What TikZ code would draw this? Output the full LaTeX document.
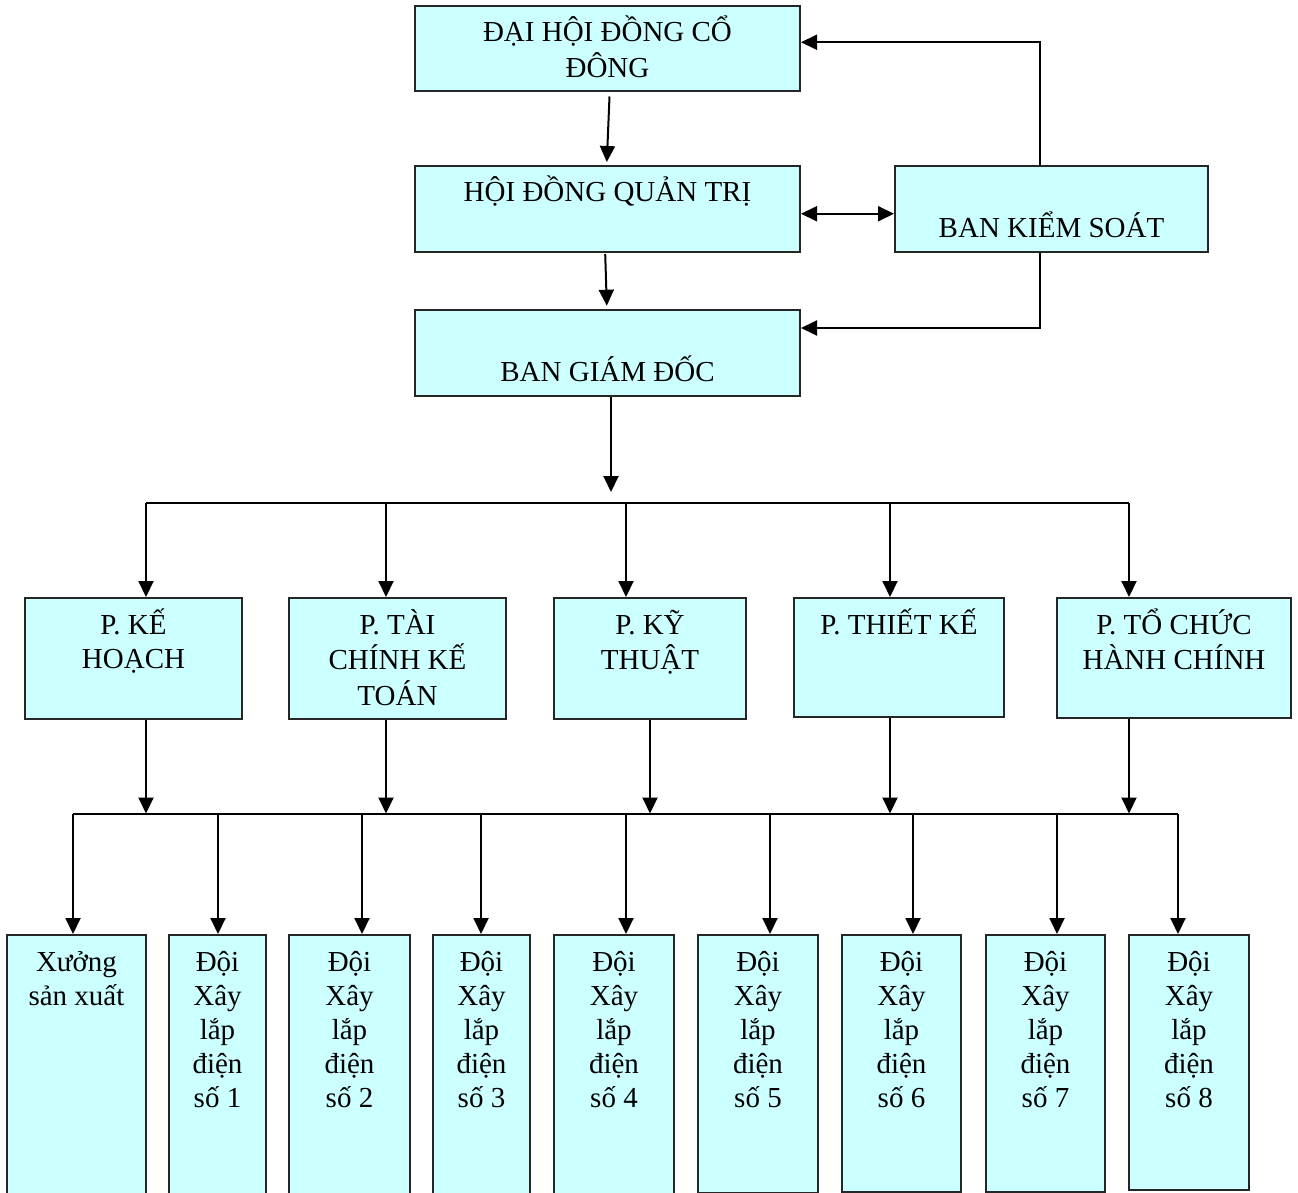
\documentclass[tikz,border=0pt]{standalone}
\usepackage{fontspec}
\setmainfont{Liberation Serif}
\usetikzlibrary{arrows.meta,calc}
\definecolor{boxfill}{HTML}{CCFFFF}
\tikzset{
  orgbox/.style={draw=black!85, fill=boxfill, line width=2pt, inner sep=0pt},
  boxtext/.style={anchor=base, inner sep=0pt, font=\fontsize{29}{34}\selectfont},
  arr/.style={-{Triangle[length=16pt,width=15pt]}, line width=2pt},
  arrboth/.style={{Triangle[length=16pt,width=15pt]}-{Triangle[length=16pt,width=15pt]}, line width=2pt},
  busline/.style={line width=2pt}
}
\newcommand\obox[6]{%
  \pgfmathsetmacro\bw{#4-#2}\pgfmathsetmacro\bh{#5-#3}%
  \node[orgbox, minimum width=\bw pt, minimum height=\bh pt] (#1) at ({(#2+#4)/2},{(#3+#5)/2}) {};
  \node[boxtext] (#1-t) at ($(#1.north)+(0,37)$) {\begin{tabular}[t]{@{}c@{}}#6\end{tabular}};
}
\begin{document}
\begin{tikzpicture}[x=1pt,y=-1pt]
\useasboundingbox (0,0) rectangle (1298,1193);
\clip (0,0) rectangle (1298,1193);
% top level
\obox{dhd}{415}{6}{800}{91.5}{ĐẠI HỘI ĐỒNG CỔ\\ĐÔNG}
\obox{hdqt}{415}{166}{800}{251.5}{HỘI ĐỒNG QUẢN TRỊ}
\obox{bks}{895}{166}{1208}{251.5}{~\\BAN KIỂM SOÁT}
\obox{bgd}{415}{310}{800}{396}{~\\BAN GIÁM ĐỐC}
% departments
\obox{kh}{25}{598}{242}{719}{P. KẾ\\HOẠCH}
\obox{tc}{289}{598}{506}{719}{P. TÀI\\CHÍNH KẾ\\TOÁN}
\obox{kt}{554}{598}{746}{719}{P. KỸ\\THUẬT}
\obox{tk}{794}{598}{1004}{717}{P. THIẾT KẾ}
\obox{hc}{1057}{598}{1291}{718}{P. TỔ CHỨC\\HÀNH CHÍNH}
% bottom units
\obox{xsx}{7}{935}{146}{1205}{Xưởng\\sản xuất}
\obox{d1}{169}{935}{266}{1205}{Đội\\Xây\\lắp\\điện\\số 1}
\obox{d2}{289}{935}{410}{1205}{Đội\\Xây\\lắp\\điện\\số 2}
\obox{d3}{433}{935}{530}{1205}{Đội\\Xây\\lắp\\điện\\số 3}
\obox{d4}{554}{935}{674}{1205}{Đội\\Xây\\lắp\\điện\\số 4}
\obox{d5}{698}{935}{818}{1193}{Đội\\Xây\\lắp\\điện\\số 5}
\obox{d6}{842}{935}{961}{1191.5}{Đội\\Xây\\lắp\\điện\\số 6}
\obox{d7}{986}{935}{1105}{1191.5}{Đội\\Xây\\lắp\\điện\\số 7}
\obox{d8}{1129}{935}{1249}{1190}{Đội\\Xây\\lắp\\điện\\số 8}
% top connectors
\draw[arr] ($(dhd.south)+(2,4)$) -- ($(hdqt.north)+(-0.7,-3)$);
\draw[arr] ($(hdqt.south)+(-2.3,1.5)$) -- ($(bgd.north)+(-0.7,-3.3)$);
\draw[arrboth] ($(hdqt.east)+(0,5)$) -- ($(bks.west)+(0,5)$);
\coordinate (kx) at (1040,0);
\coordinate (dhdin) at ($(dhd.east)+(0,-6.5)$);
\coordinate (bgdin) at ($(bgd.east)+(0,-25)$);
\draw[arr] (bks.north -| kx) |- (dhdin);
\draw[arr] (bks.south -| kx) |- (bgdin);
% director to department bus
\coordinate (bx) at (611,0);
\coordinate (bgdend) at (611,492);
\draw[arr] (bgd.south -| bx) -- (bgdend);
\coordinate (busL) at (146,503);
\coordinate (busR) at (1129,503);
\draw[busline] (busL) -- (busR);
\foreach \n/\x in {kh/146, tc/386, kt/626, tk/890, hc/1129}
  \draw[arr] (\x,503) -- (\x,0 |- \n.north);
% departments to unit bus
\foreach \n/\x in {kh/146, tc/386, kt/650, tk/890, hc/1129}
  \draw[arr] (\n.south -| \x,0) -- (\x,813.5);
\coordinate (ubusL) at (73,814);
\coordinate (ubusR) at (1178,814);
\draw[busline] (ubusL) -- (ubusR);
\foreach \n/\x in {xsx/73, d1/218, d2/362, d3/481, d4/626, d5/770, d6/913, d7/1057, d8/1178}
  \draw[arr] (\x,814) -- (\x,0 |- \n.north);
\end{tikzpicture}
\end{document}
